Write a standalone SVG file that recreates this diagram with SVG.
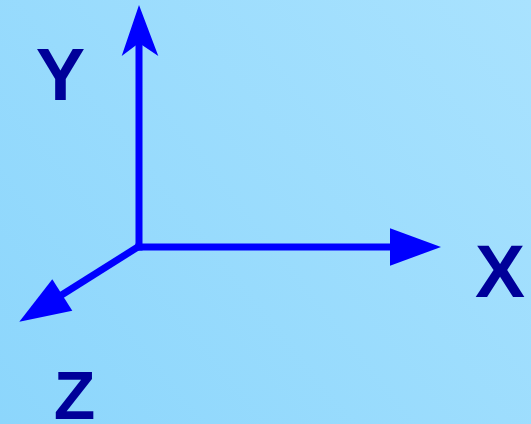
<svg xmlns="http://www.w3.org/2000/svg" width="531" height="424" viewBox="0 0 531 424">
<defs>
<linearGradient id="bg" x1="0" y1="424" x2="531" y2="0" gradientUnits="userSpaceOnUse">
<stop offset="0" stop-color="#8cd6fc"/>
<stop offset="1" stop-color="#a9e2fe"/>
</linearGradient>
<style>
.axis{stroke:#0000ff;stroke-width:7;fill:none;stroke-linecap:butt}
.head{fill:#0000ff;stroke:none}
.lbl{font-family:"Liberation Sans",Arial,sans-serif;font-weight:bold;fill:#000099;text-anchor:middle}
</style>
</defs>
<rect x="0" y="0" width="531" height="424" fill="url(#bg)"/>
<g id="connectors">
<line class="axis" x1="139" y1="250.5" x2="139" y2="40"/>
<polygon class="head" points="139,5 158.3,56 139,43 121.7,56"/>
<line class="axis" x1="135.5" y1="247" x2="392" y2="247"/>
<polygon class="head" points="441,247 390,265.7 390,228.3"/>
<line class="axis" x1="141" y1="245" x2="60" y2="296"/>
<polygon class="head" points="19.3,321.7 52.3,279.3 72.3,310.7"/>
</g>
<g id="label-y"><text class="lbl" x="60.5" y="100" font-size="74">Y</text></g>
<g id="label-x"><text class="lbl" x="500" y="297" font-size="75">X</text></g>
<g id="label-z"><text class="lbl" x="74.5" y="419" font-size="68">Z</text></g>
</svg>
